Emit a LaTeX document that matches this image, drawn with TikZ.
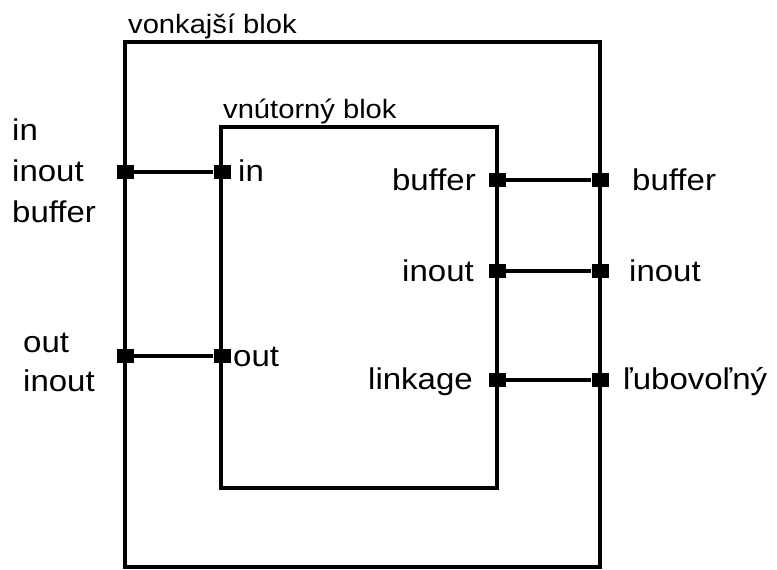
\documentclass[tikz,border=0pt]{standalone}
\usepackage{fontspec}
\setmainfont{Liberation Sans}[FakeStretch=1.1]
\begin{document}
\begin{tikzpicture}[x=1pt,y=-1pt,
  blk/.style={draw=black,line width=3.2pt,fill=none},
  port/.style={fill=black,draw=none,minimum width=17pt,minimum height=14pt,inner sep=0pt},
  wire/.style={line width=3.2pt},
  lbl/.style={inner sep=0pt,font=\fontsize{30}{40}\selectfont},
  ttl/.style={inner sep=0pt,font=\fontsize{26.5}{32}\selectfont}]
\useasboundingbox (0,0) rectangle (777,570);
% blocks
\draw[blk] (125,42) rectangle (600,567);
\draw[blk] (221,127) rectangle (497,488);
\node[ttl,anchor=base west] (tout) at (128,33) {vonkajší blok};
\node[ttl,anchor=base west] (tin) at (223,118) {vnútorný blok};
% ports left
\node[port] (ol1) at (125,172) {};
\node[port] (il1) at (222,172) {};
\node[port] (ol2) at (125,356) {};
\node[port] (il2) at (222,356) {};
% ports right
\node[port] (ir1) at (497,180) {};
\node[port] (or1) at (600,180) {};
\node[port] (ir2) at (497,271) {};
\node[port] (or2) at (600,271) {};
\node[port] (ir3) at (497,380) {};
\node[port] (or3) at (600,380) {};
% wires
\draw[wire] (ol1) -- (il1);
\draw[wire] (ol2) -- (il2);
\draw[wire] (ir1) -- (or1);
\draw[wire] (ir2) -- (or2);
\draw[wire] (ir3) -- (or3);
% left outer labels
\node[lbl,anchor=base west] (l1a) at (12,140) {in};
\node[lbl,anchor=base west] (l1b) at (12,181) {inout};
\node[lbl,anchor=base west] (l1c) at (12,222) {buffer};
\node[lbl,anchor=base west] (l2a) at (23,352) {out};
\node[lbl,anchor=base west] (l2b) at (23,391) {inout};
% inner left labels
\node[lbl,anchor=base west] (n1) at (238,181) {in};
\node[lbl,anchor=base west] (n2) at (233,366) {out};
% inner right labels
\node[lbl,anchor=base east] (r1) at (476,190) {buffer};
\node[lbl,anchor=base east] (r2) at (474,281) {inout};
\node[lbl,anchor=base east] (r3) at (473,389) {linkage};
% outer right labels
\node[lbl,anchor=base west] (q1) at (632,190) {buffer};
\node[lbl,anchor=base west] (q2) at (629,281) {inout};
\node[lbl,anchor=base west] (q3) at (623,389) {ľubovoľný};
\end{tikzpicture}
\end{document}
